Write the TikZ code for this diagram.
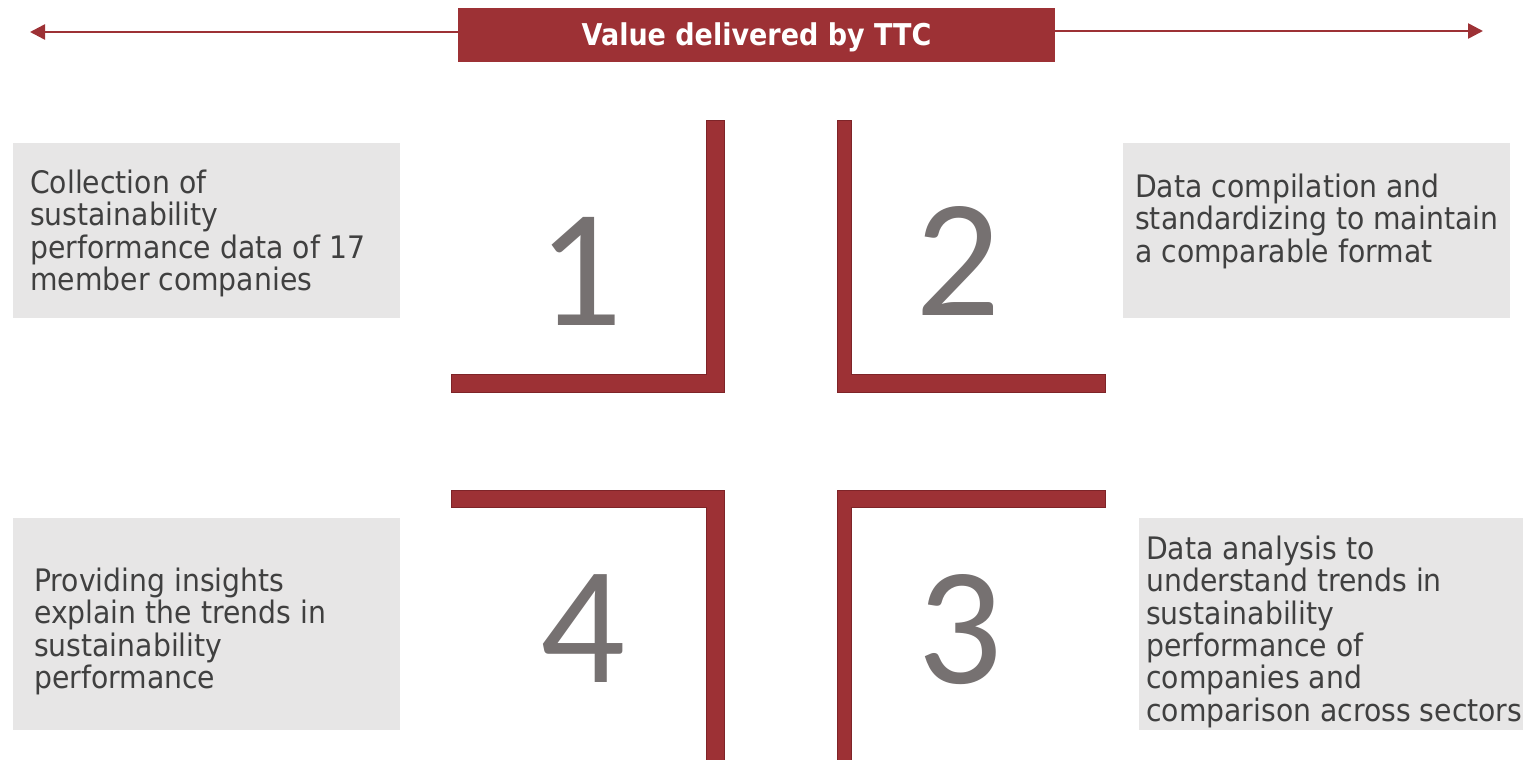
\documentclass[tikz,border=0pt]{standalone}
\usepackage{fontspec}
\usetikzlibrary{arrows.meta}
\newfontfamily\bodyfont{DejaVu Sans}[FakeStretch=0.912]
\newfontfamily\headfont{DejaVu Sans}[FakeStretch=0.9]
\newfontfamily\numfont{Carlito}
\definecolor{brick}{HTML}{9D3135}
\definecolor{brickdark}{HTML}{7E2428}
\definecolor{boxgray}{HTML}{E7E6E6}
\definecolor{txtgray}{HTML}{404040}
\definecolor{numgray}{HTML}{767171}
\tikzset{
  graybox/.style={fill=boxgray, draw=none, inner sep=0pt, anchor=north west},
  bodytxt/.style={anchor=north west, inner sep=0pt, align=left, text=txtgray,
    font=\bodyfont\fontsize{31}{32.4}\selectfont},
  numtxt/.style={anchor=base, inner sep=0pt, text=numgray, font=\numfont\fontsize{168}{168}\selectfont},
  titlebar/.style={fill=brick, draw=none, inner sep=0pt, minimum width=597pt, minimum height=54pt},
  titletxt/.style={anchor=base, inner sep=0pt, text=white, font=\headfont\bfseries\fontsize{30}{30}\selectfont},
  bracket/.style={fill=brick, draw=brickdark, line width=0.8pt},
  arr/.style={draw=brick, line width=2.5pt, -{Triangle[length=15pt,width=15pt]}}
}
\begin{document}
\begin{tikzpicture}[x=1pt,y=-1pt]
\useasboundingbox (0,0) rectangle (1523,760);
% title
\node[titlebar] (title) at (756.5,35) {};
\node[titletxt] (titletext) at (756.5,46) {Value delivered by TTC};
\coordinate (lefttip) at (30,32);
\coordinate (righttip) at (1483,31);
\draw[arr] ([yshift=3pt]title.west) -- (lefttip);
\draw[arr] ([yshift=4pt]title.east) -- (righttip);
% gray boxes
\node[graybox, minimum width=387pt, minimum height=175pt] (box1) at (13,143) {};
\node[graybox, minimum width=387pt, minimum height=175pt] (box2) at (1123,143) {};
\node[graybox, minimum width=387pt, minimum height=212pt] (box4) at (13,518) {};
\node[graybox, minimum width=384pt, minimum height=212pt] (box3) at (1139,518) {};
% texts
\node[bodytxt] (txt1) at (30,169.5) {Collection of\\sustainability\\performance data of 17\\member companies};
\node[bodytxt] (txt2) at (1135,173.5) {Data compilation and\\standardizing to maintain\\a comparable format};
\node[bodytxt] (txt4) at (34,567.5) {Providing insights\\explain the trends in\\sustainability\\performance};
\node[bodytxt] (txt3) at (1146,535.5) {Data analysis to\\understand trends in\\sustainability\\performance of\\companies and\\comparison across sectors};
% brackets
\draw[bracket] (706,120) -- (724,120) -- (724,392) -- (451,392) -- (451,374) -- (706,374) -- cycle;
\draw[bracket] (837,120) -- (851,120) -- (851,374) -- (1105,374) -- (1105,392) -- (837,392) -- cycle;
\draw[bracket] (451,490) -- (724,490) -- (724,761) -- (706,761) -- (706,507) -- (451,507) -- cycle;
\draw[bracket] (837,490) -- (1105,490) -- (1105,507) -- (851,507) -- (851,761) -- (837,761) -- cycle;
% numbers
\node[numtxt] (n1) at (580,325) {1};
\node[numtxt] (n2) at (958,315) {2};
\node[numtxt] (n4) at (583,682) {4};
\node[numtxt] (n3) at (960,683) {3};
\end{tikzpicture}
\end{document}
